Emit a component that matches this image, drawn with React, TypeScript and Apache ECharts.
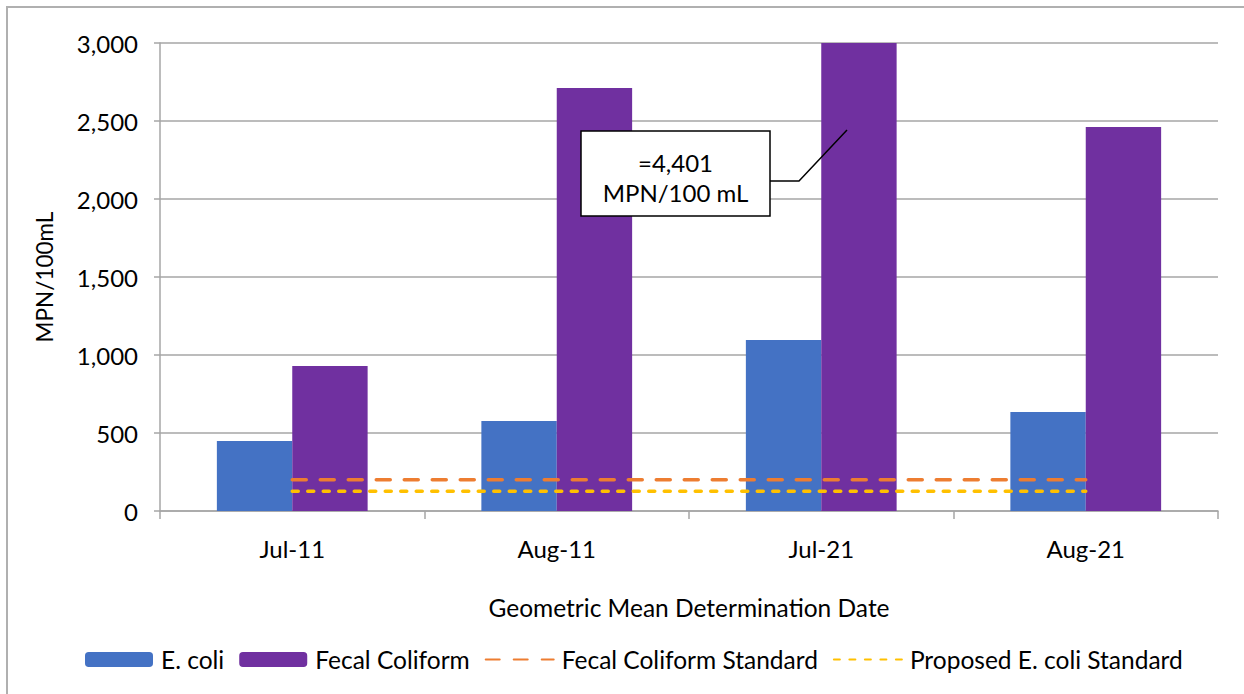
import React, { useEffect, useRef } from "react";
import * as echarts from "echarts";

const categories = ["Jul-11", "Aug-11", "Jul-21", "Aug-21"];
const eColi = [449, 577, 1096, 635];
const fecalColiform = [929, 2712, 4401, 2462];
const fecalStandard = [200, 200, 200, 200];
const proposedEColiStandard = [126, 126, 126, 126];
const yTicks = [0, 500, 1000, 1500, 2000, 2500, 3000];

const FONT = "Lato";
const FS = 24;

export default function App() {
  const ref = useRef<HTMLDivElement>(null);
  useEffect(() => {
    if (!ref.current) return;
    const chart = echarts.init(ref.current, undefined, { renderer: "svg" });
    chart.setOption({
      animation: false,
      backgroundColor: "#ffffff",
      textStyle: { fontFamily: FONT, color: "#000" },
      grid: { left: 160, right: 26, top: 43, bottom: 183, containLabel: false },
      legend: {
        left: 85,
        top: 647,
        padding: 0,
        itemWidth: 68,
        itemHeight: 15,
        itemGap: 15,
        textStyle: { fontFamily: FONT, fontSize: 24.5, color: "#000", padding: [0, 0, 0, 3] },
        data: [
          { name: "E. coli" },
          { name: "Fecal Coliform" },
          { name: "Fecal Coliform Standard", itemStyle: { opacity: 0 } },
          { name: "Proposed E. coli Standard", itemStyle: { opacity: 0 } },
        ],
      },
      xAxis: {
        type: "category",
        data: categories,
        name: "Geometric Mean Determination Date",
        nameLocation: "middle",
        nameGap: 84,
        nameTextStyle: { fontFamily: FONT, fontSize: 24.5, color: "#000" },
        axisLine: { lineStyle: { color: "#a6a6a6", width: 1.5 } },
        axisTick: { show: true, length: 8, lineStyle: { color: "#a6a6a6", width: 1.5 } },
        axisLabel: { fontFamily: FONT, fontSize: FS, color: "#000", margin: 25 },
        splitLine: { show: false },
      },
      yAxis: {
        type: "value",
        min: yTicks[0],
        max: yTicks[yTicks.length - 1],
        interval: 500,
        name: "MPN/100mL",
        nameLocation: "middle",
        nameGap: 104,
        nameRotate: 90,
        nameTextStyle: { fontFamily: FONT, fontSize: 22.5, color: "#000" },
        axisLine: { show: true, lineStyle: { color: "#a6a6a6", width: 1.5 } },
        axisTick: { show: true, length: 6, lineStyle: { color: "#a6a6a6", width: 1.5 } },
        axisLabel: {
          fontFamily: FONT,
          fontSize: FS,
          color: "#000",
          margin: 22,
          formatter: (v: number) => v.toLocaleString("en-US"),
        },
        splitLine: { show: true, lineStyle: { color: "#a6a6a6", width: 1.5 } },
      },
      series: [
        {
          name: "E. coli",
          type: "bar",
          data: eColi,
          barGap: "0%",
          barCategoryGap: "43%",
          itemStyle: { color: "#4472C4" },
        },
        {
          name: "Fecal Coliform",
          type: "bar",
          data: fecalColiform,
          itemStyle: { color: "#7030A0" },
        },
        {
          name: "Fecal Coliform Standard",
          type: "line",
          data: fecalStandard,
          symbol: "none",
          itemStyle: { color: "#ED7D31" },
          lineStyle: { color: "#ED7D31", width: 3.5, type: [14, 14], cap: "round" },
        },
        {
          name: "Proposed E. coli Standard",
          type: "line",
          data: proposedEColiStandard,
          symbol: "none",
          itemStyle: { color: "#FFC000" },
          lineStyle: { color: "#FFC000", width: 3.5, type: [6, 9.5], cap: "round" },
        },
      ],
      graphic: [
        {
          type: "rect",
          shape: { x: 7, y: 7, width: 1260, height: 720 },
          style: { fill: "none", stroke: "#b0b0b0", lineWidth: 2 },
          silent: true,
        },
        {
          type: "polyline",
          shape: { points: [[770, 181], [799, 181], [847, 130]] },
          style: { stroke: "#000", lineWidth: 1.5, fill: "none" },
          z: 100,
        },
        {
          type: "rect",
          shape: { x: 581, y: 131, width: 189, height: 85 },
          style: { fill: "#fff", stroke: "#000", lineWidth: 1.5 },
          z: 100,
        },
        {
          type: "text",
          x: 675.5,
          y: 177,
          style: {
            text: "=4,401\nMPN/100 mL",
            fontFamily: FONT,
            fontSize: FS,
            lineHeight: 30,
            fill: "#000",
            align: "center",
            verticalAlign: "middle",
          },
          z: 101,
        },
      ],
    });
    return () => chart.dispose();
  }, []);
  return (
    <div
      ref={ref}
      style={{ position: "absolute", left: 0, top: 0, width: 1244, height: 694 }}
    />
  );
}
